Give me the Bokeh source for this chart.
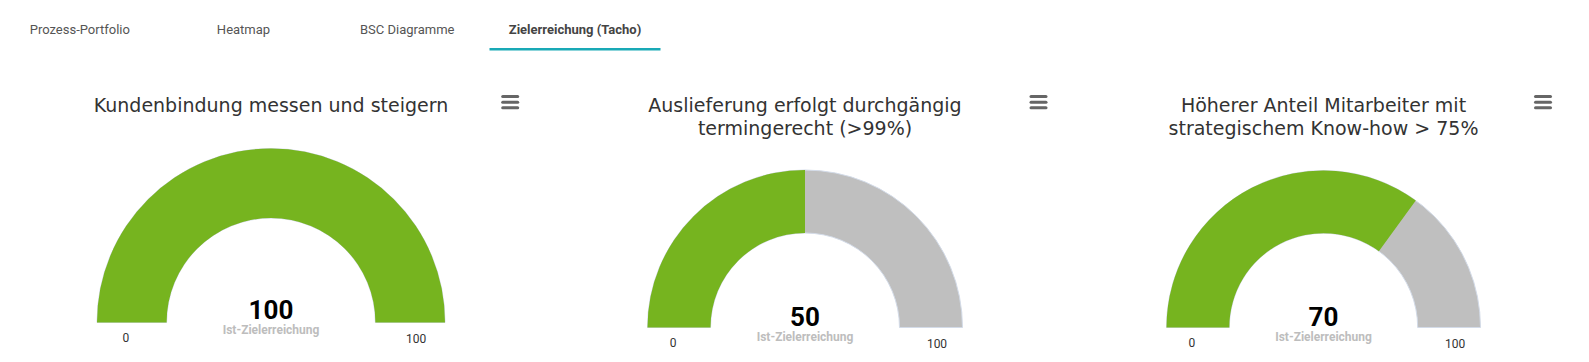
from bokeh.plotting import figure
from bokeh.models import Range1d
from bokeh.core.properties import value
from bokeh.embed import file_html
from bokeh.resources import INLINE
import math

# ---- data ----
tabs = ["Prozess-Portfolio", "Heatmap", "BSC Diagramme", "Zielerreichung (Tacho)"]
active_tab = 3
titles = [
    ["Kundenbindung messen und steigern"],
    ["Auslieferung erfolgt durchgängig", "termingerecht (>99%)"],
    ["Höherer Anteil Mitarbeiter mit", "strategischem Know-how > 75%"],
]
values = [100, 50, 70]
axis_min = [0, 0, 0]
axis_max = [100, 100, 100]
value_label = "Ist-Zielerreichung"

# ---- layout ----
W, H = 1589, 362
def sx(x): return x
def sy(y): return H - y

centers = [(270.5, 322), (804.5, 327), (1323, 327)]
outer = [174, 157.5, 157]
inner_frac = 0.6
title_base = [[104], [104, 127], [104, 127]]
menu_x = [509.7, 1038, 1542.5]
tab_x = [79.3, 243, 406.7, 574.5]

GREEN = "#76b41f"
GRAY = "#bfbfbf"

p = figure(width=W, height=H, x_range=Range1d(0, W), y_range=Range1d(0, H),
           output_backend="svg", toolbar_location=None, min_border=0)
p.axis.visible = False
p.grid.visible = False
p.outline_line_color = None
p.background_fill_color = "white"
p.border_fill_color = "white"

# tabs
for i, t in enumerate(tabs):
    p.text(x=[sx(tab_x[i])], y=[sy(29.3)], text=[t], text_align="center",
           text_baseline="alphabetic", text_font=value("Roboto"),
           text_font_size="13px",
           text_font_style="bold" if i == active_tab else "normal",
           text_color="#444444" if i == active_tab else "#555555")
p.quad(left=[sx(489)], right=[sx(660)], top=[sy(47.5)], bottom=[sy(50)],
       fill_color="#19a9b6", line_color=None)

for i in range(3):
    cx, cy = centers[i]
    R = outer[i]
    r = R * inner_frac
    x0, y0 = sx(cx), sy(cy)
    # background pane
    p.annular_wedge(x=[x0], y=[y0], inner_radius=r, outer_radius=R,
                    start_angle=math.pi, end_angle=0, direction="clock",
                    fill_color=GRAY, line_color="#d3dbe8", line_width=1)
    frac = (values[i] - axis_min[i]) / (axis_max[i] - axis_min[i])
    end = math.pi - frac * math.pi
    if frac >= 1:
        end = 0.0
    p.annular_wedge(x=[x0], y=[y0], inner_radius=r, outer_radius=R,
                    start_angle=math.pi, end_angle=end, direction="clock",
                    fill_color=GREEN, line_color=None)
    # titles
    for j, line in enumerate(titles[i]):
        p.text(x=[x0], y=[sy(title_base[i][j])], text=[line], text_align="center",
               text_baseline="alphabetic", text_font=value("DejaVu Sans"),
               text_font_size="19px", text_color="#333333")
    # value
    p.text(x=[x0], y=[y0 + 13 - (0 if i == 0 else 2)], text=[str(values[i])],
           text_align="center", text_baseline="alphabetic",
           text_font=value("Roboto"), text_font_size="26px",
           text_font_style="bold", text_color="#000000")
    p.text(x=[x0], y=[y0 - 7 - (0 if i == 0 else 2)], text=[value_label],
           text_align="center", text_baseline="alphabetic",
           text_font=value("Roboto"), text_font_size="12px",
           text_font_style="bold", text_color="#bdbdbd")
    # axis min/max
    off = (R + r) / 2 + 6
    p.text(x=[x0 - off, x0 + off], y=[y0 - 15, y0 - 16],
           text=[str(axis_min[i]), str(axis_max[i])],
           text_align="center", text_baseline="alphabetic",
           text_font=value("Roboto"), text_font_size="12px",
           text_color="#333333")
    # menu icon
    mx = sx(menu_x[i])
    for by in (96, 101.7, 107.3):
        p.segment(x0=[mx - 7.5], y0=[sy(by)], x1=[mx + 7.5], y1=[sy(by)],
                  line_color="#666666", line_width=3, line_cap="round")

open("out.html", "w").write(file_html(p, INLINE))
